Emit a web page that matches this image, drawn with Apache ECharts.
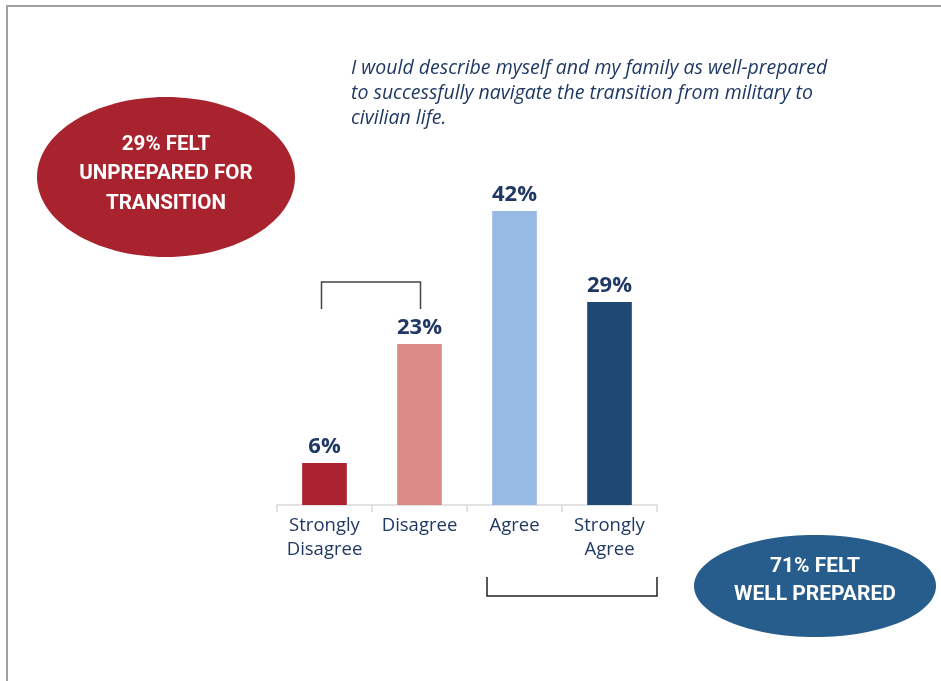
<!DOCTYPE html>
<html>
<head>
<meta charset="utf-8">
<script src="https://cdn.jsdelivr.net/npm/echarts@6/dist/echarts.min.js"></script>
<style>
html,body{margin:0;padding:0;background:#fff;}
#chart{width:941px;height:681px;}
</style>
</head>
<body>
<div id="chart"></div>
<script>
const categories = ['Strongly\nDisagree', 'Disagree', 'Agree', 'Strongly\nAgree'];
const values = [6, 23, 42, 29];
const barColors = ['#ab2330', '#db8a87', '#97bae4', '#1f4872'];
const titleText = 'I would describe myself and my family as well-prepared\nto successfully navigate the transition from military to\ncivilian life.';
const unpreparedText = '29% FELT\nUNPREPARED FOR\nTRANSITION';
const preparedText = '71% FELT\nWELL PREPARED';

const navy = '#1f3864';
const chart = echarts.init(document.getElementById('chart'), null, {renderer: 'canvas'});

const option = {
  backgroundColor: '#fff',
  animation: false,
  title: {
    text: titleText,
    left: 346,
    top: 51,
    textStyle: {
      fontFamily: 'Open Sans',
      fontStyle: 'italic',
      fontWeight: 'normal',
      fontSize: 19.5,
      lineHeight: 25,
      color: navy
    }
  },
  grid: {left: 277, right: 284, top: 155, bottom: 176},
  xAxis: {
    type: 'category',
    data: categories,
    axisLine: {lineStyle: {color: '#d9d9d9', width: 1.5}},
    axisTick: {show: true, length: 7, lineStyle: {color: '#d9d9d9', width: 1.5}},
    axisLabel: {
      fontFamily: 'Open Sans',
      fontSize: 18.5,
      lineHeight: 24,
      color: navy,
      margin: 9,
      interval: 0
    }
  },
  yAxis: {
    type: 'value',
    min: 0,
    max: 50,
    show: false,
    splitLine: {show: false}
  },
  series: [{
    type: 'bar',
    data: values.map((v, i) => ({value: v, itemStyle: {color: barColors[i]}})),
    barWidth: '47%',
    label: {
      show: true,
      position: 'top',
      distance: 5,
      formatter: '{c}%',
      fontFamily: 'Open Sans',
      fontWeight: 'bold',
      fontSize: 22,
      color: navy
    }
  }]
};
chart.setOption(option);

const condensed = 'Roboto, sans-serif';
const graphics = [
  // frame
  {type: 'polyline', shape: {points: [[7, 681], [7, 6], [941, 6]]}, style: {stroke: '#a0a0a0', lineWidth: 2, fill: null}},
  // red ellipse
  {type: 'ellipse', shape: {cx: 166, cy: 177, rx: 129, ry: 80}, style: {fill: '#a8232e'}},
  {type: 'text', x: 166, y: 174, scaleX: 0.98, style: {text: unpreparedText, fill: '#fff', font: 'bold 21px ' + condensed, lineHeight: 29.5, align: 'center', verticalAlign: 'middle'}},
  // blue ellipse
  {type: 'ellipse', shape: {cx: 815, cy: 586, rx: 121, ry: 51}, style: {fill: '#275d8c'}},
  {type: 'text', x: 815, y: 581, style: {text: preparedText, fill: '#fff', font: 'bold 21px ' + condensed, lineHeight: 28, align: 'center', verticalAlign: 'middle'}}
];

// brackets tied to category positions
const x0 = chart.convertToPixel({xAxisIndex: 0}, categories[0]);
const x1 = chart.convertToPixel({xAxisIndex: 0}, categories[1]);
graphics.push({type: 'polyline', shape: {points: [[x0 - 3, 309], [x0 - 3, 282], [x1 + 1, 282], [x1 + 1, 309]]}, style: {stroke: '#444', lineWidth: 1.5, fill: null}});
graphics.push({type: 'polyline', shape: {points: [[487, 577], [487, 596], [657, 596], [657, 577]]}, style: {stroke: '#222', lineWidth: 1.5, fill: null}});

chart.setOption({graphic: graphics});
</script>
</body>
</html>
